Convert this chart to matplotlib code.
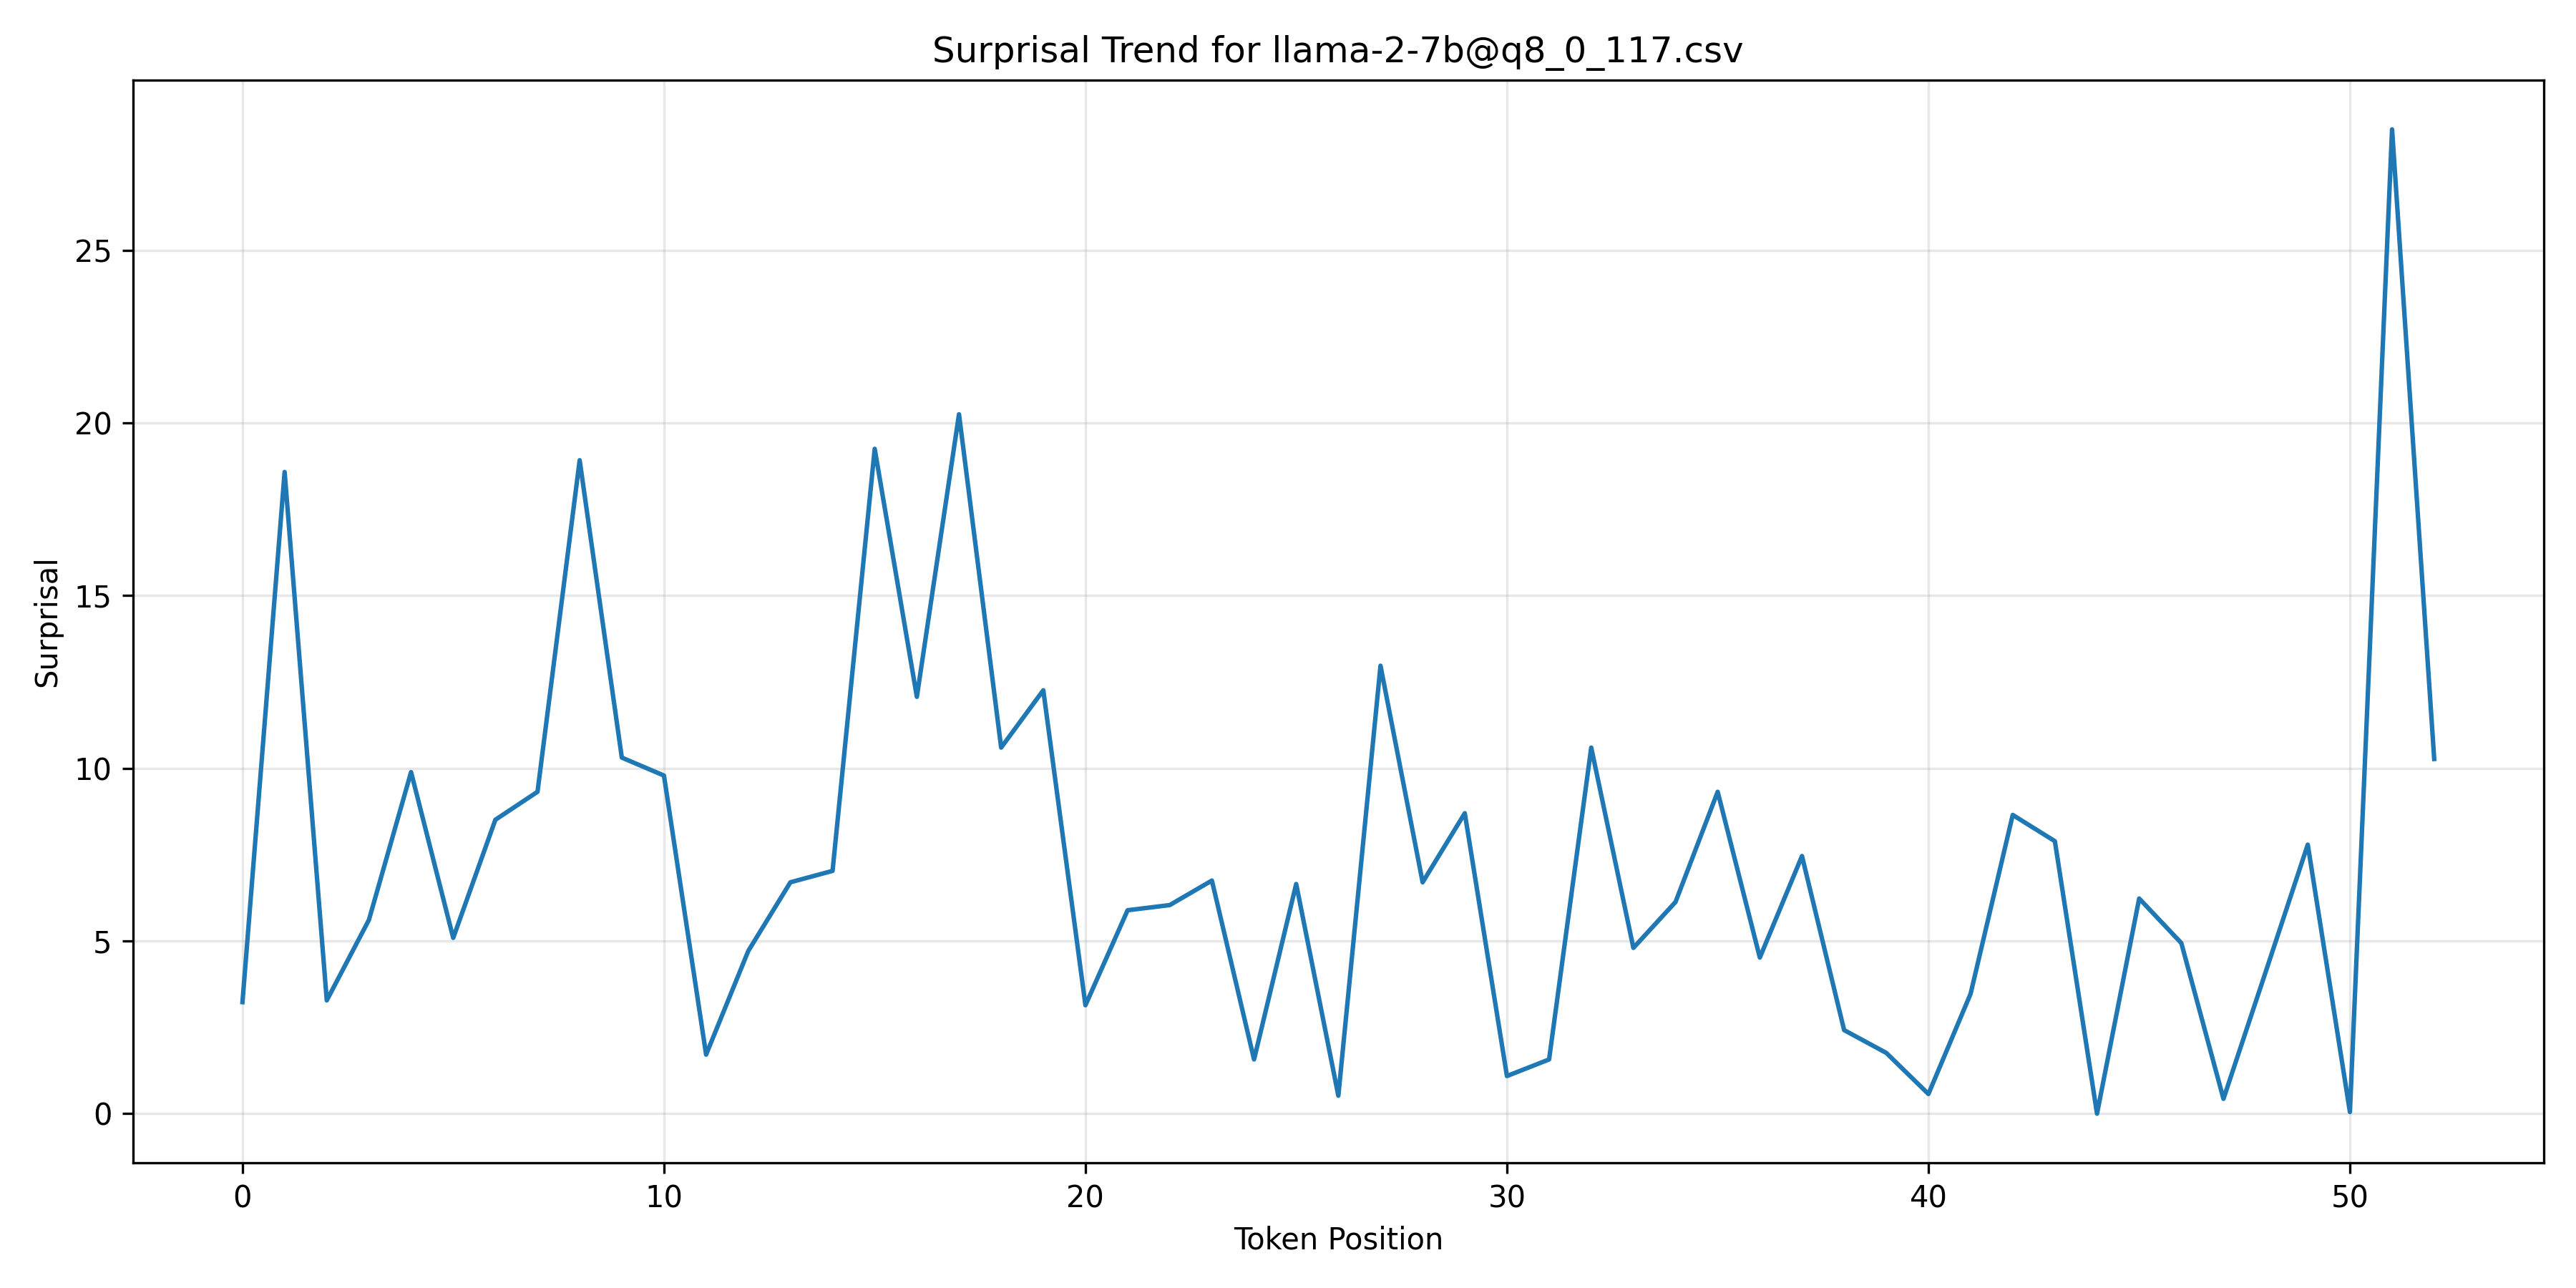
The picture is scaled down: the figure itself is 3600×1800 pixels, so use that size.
import matplotlib
matplotlib.use("Agg")
import matplotlib.pyplot as plt
import numpy as np

# === Data ===
positions = list(range(53))
surprisal = [3.23, 18.58, 3.28, 5.61, 9.89, 5.09, 8.51, 9.32, 18.92, 10.31,
             9.79, 1.71, 4.71, 6.70, 7.03, 19.25, 12.07, 20.25, 10.60, 12.26,
             3.14, 5.89, 6.04, 6.75, 1.57, 6.65, 0.52, 12.97, 6.70, 8.70,
             1.09, 1.57, 10.60, 4.80, 6.13, 9.32, 4.52, 7.46, 2.42, 1.76,
             0.57, 3.47, 8.65, 7.89, 0.0, 6.23, 4.94, 0.43, 4.10, 7.79,
             0.05, 28.5, 10.27]
filename = "llama-2-7b@q8_0_117.csv"

# === Plot ===
plt.figure(figsize=(12, 6))
plt.plot(positions, surprisal, color="#1f77b4", linewidth=1.5)
plt.title(f"Surprisal Trend for {filename}")
plt.xlabel("Token Position")
plt.ylabel("Surprisal")
plt.grid(True, alpha=0.3)
plt.tight_layout()
plt.savefig("out.png", dpi=300)
plt.close()
